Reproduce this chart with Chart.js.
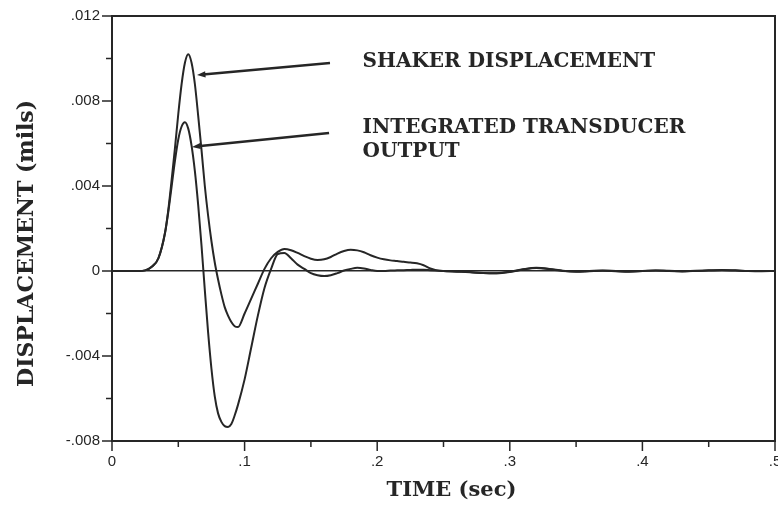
<!DOCTYPE html>
<html>
<head>
<meta charset="utf-8">
<script src="https://cdn.jsdelivr.net/npm/chart.js@4.4.1/dist/chart.umd.min.js"></script>
<style>
  html, body { margin: 0; padding: 0; background: #fff; }
  #wrap { width: 778px; height: 508px; }
</style>
</head>
<body>
<div id="wrap"><canvas id="chart" width="778" height="508"></canvas></div>
<script>
/* ================= DATA ================= */

const times = [
  0, 0.01, 0.02, 0.025, 0.03, 0.035, 0.04, 0.0425, 0.045, 0.0475,
  0.05, 0.0525, 0.055, 0.0575, 0.06, 0.0625, 0.065, 0.0675, 0.07, 0.0725,
  0.075, 0.0775, 0.08, 0.0825, 0.085, 0.0875, 0.09, 0.0925, 0.095, 0.1,
  0.105, 0.11, 0.115, 0.12, 0.125, 0.13, 0.135, 0.14, 0.145, 0.15,
  0.155, 0.16, 0.165, 0.17, 0.175, 0.18, 0.185, 0.19, 0.195, 0.2,
  0.205, 0.21, 0.215, 0.22, 0.225, 0.23, 0.235, 0.24, 0.245, 0.25,
  0.26, 0.27, 0.28, 0.29, 0.3, 0.31, 0.32, 0.33, 0.34, 0.35,
  0.36, 0.37, 0.38, 0.39, 0.4, 0.41, 0.42, 0.43, 0.44, 0.45,
  0.46, 0.47, 0.48, 0.49, 0.5
];

const shaker = [
  0, 0, 0, 0.00003, 0.0002, 0.0006, 0.0018, 0.0029, 0.0043, 0.0058,
  0.0074, 0.0088, 0.0098, 0.0102, 0.0098, 0.0088, 0.0073, 0.0057, 0.0040, 0.0026,
  0.0014, 0.0004, -0.0004, -0.0011, -0.0017, -0.0021, -0.0024, -0.0026, -0.00264, -0.0020,
  -0.0013, -0.0006, 0.0001, 0.0006, 0.0009, 0.00104, 0.00098, 0.00085, 0.0007, 0.00058,
  0.00052, 0.00055, 0.00066, 0.00082, 0.00094, 0.001, 0.00097, 0.00088, 0.00074, 0.00063,
  0.00055, 0.0005, 0.00047, 0.00043, 0.0004, 0.00036, 0.00027, 0.00012, 0.00003, 0,
  -0.00002, -0.00005, -0.00009, -0.0001, -0.00004, 0.00008, 0.00014, 0.00008, 0, -0.00002,
  0, 0.00002, 0, -0.00002, 0, 0.00002, 0, -0.00001, 0.00001, 0.00002,
  0.00004, 0.00002, 0, 0, 0
];

const transducer = [
  0, 0, 0, 0.00003, 0.0002, 0.0006, 0.0018, 0.0028, 0.0040, 0.0052,
  0.0062, 0.0068, 0.0070, 0.0067, 0.0059, 0.0047, 0.0031, 0.0012, -0.0009, -0.0029,
  -0.0046, -0.0059, -0.0067, -0.0071, -0.0073, -0.00734, -0.0072, -0.0068, -0.0063, -0.0051,
  -0.0036, -0.0021, -0.0008, 0.0001, 0.0008, 0.00085, 0.0006, 0.0003, 0.0001, -0.0001,
  -0.0002, -0.00024, -0.0002, -0.0001, 0.00002, 0.0001, 0.00015, 0.00012, 0.00005, 0,
  0, 0.00002, 0.00003, 0.00004, 0.00005, 0.00006, 0.00006, 0.00004, 0.00002, 0,
  -0.00003, -0.00006, -0.0001, -0.00011, -0.00005, 0.00007, 0.00015, 0.0001, 0.00001, -0.00003,
  -0.00001, 0.00001, -0.00001, -0.00003, 0, 0.00002, 0.00001, -0.00002, 0, 0.00003,
  0.00005, 0.00003, 0, -0.00001, 0
];

const xTicks = [0, 0.1, 0.2, 0.3, 0.4, 0.5];
const xTickLabels = ["0", ".1", ".2", ".3", ".4", ".5"];
const xMinor = [0.05, 0.15, 0.25, 0.35, 0.45];

const yTicks = [-0.008, -0.004, 0, 0.004, 0.008, 0.012];
const yTickLabels = ["-.008", "-.004", "0", ".004", ".008", ".012"];
const yMinor = [-0.006, -0.002, 0.002, 0.006, 0.010];

const xTitle = "TIME (sec)";
const yTitle = "DISPLACEMENT (mils)";

// annotation text: left edge at noteTimes, vertical middle at noteValues
const noteLabels = ["SHAKER DISPLACEMENT", "INTEGRATED TRANSDUCER", "OUTPUT"];
const noteTimes = [0.189, 0.189, 0.189];
const noteValues = [0.00984, 0.00673, 0.0056];

// arrows: tail -> tip, in data units
const arrowFromT = [0.1644, 0.1637];
const arrowFromV = [0.00979, 0.00649];
const arrowToT = [0.0641, 0.0603];
const arrowToV = [0.00922, 0.00584];

const ink = "#262626";

/* ================= PLUGINS ================= */

const frameAndNotes = {
  id: "frameAndNotes",
  afterDraw(chart) {
    const { ctx, chartArea: a, scales: { x, y } } = chart;
    ctx.save();
    ctx.strokeStyle = ink;
    ctx.fillStyle = ink;

    // top + right frame
    ctx.lineWidth = 2;
    ctx.beginPath();
    ctx.moveTo(a.left, a.top);
    ctx.lineTo(a.right, a.top);
    ctx.lineTo(a.right, a.bottom);
    ctx.stroke();

    // tick marks
    const mark = (x1, y1, x2, y2) => {
      ctx.beginPath();
      ctx.moveTo(x1, y1);
      ctx.lineTo(x2, y2);
      ctx.stroke();
    };
    ctx.lineWidth = 1.5;
    yTicks.forEach(v => { const p = y.getPixelForValue(v); mark(a.left - 10, p, a.left, p); });
    yMinor.forEach(v => { const p = y.getPixelForValue(v); mark(a.left - 6, p, a.left, p); });
    xTicks.forEach(v => { const p = x.getPixelForValue(v); mark(p, a.bottom, p, a.bottom + 10); });
    xMinor.forEach(v => { const p = x.getPixelForValue(v); mark(p, a.bottom, p, a.bottom + 6); });

    // arrows
    ctx.lineWidth = 2.5;
    arrowFromT.forEach((t, i) => {
      const x1 = x.getPixelForValue(t), y1 = y.getPixelForValue(arrowFromV[i]);
      const x2 = x.getPixelForValue(arrowToT[i]), y2 = y.getPixelForValue(arrowToV[i]);
      const ang = Math.atan2(y2 - y1, x2 - x1);
      mark(x1, y1, x2 - 6 * Math.cos(ang), y2 - 6 * Math.sin(ang));
      ctx.beginPath();
      ctx.moveTo(x2, y2);
      ctx.lineTo(x2 - 9 * Math.cos(ang - 0.35), y2 - 9 * Math.sin(ang - 0.35));
      ctx.lineTo(x2 - 9 * Math.cos(ang + 0.35), y2 - 9 * Math.sin(ang + 0.35));
      ctx.closePath();
      ctx.fill();
    });

    // annotation text
    ctx.font = "bold 20px 'DejaVu Serif'";
    ctx.textBaseline = "middle";
    ctx.textAlign = "left";
    noteLabels.forEach((txt, i) => {
      ctx.fillText(txt, x.getPixelForValue(noteTimes[i]), y.getPixelForValue(noteValues[i]));
    });

    // axis titles
    ctx.textAlign = "center";
    ctx.font = "bold 21px 'DejaVu Serif'";
    ctx.fillText(xTitle, x.getPixelForValue(0.256), 491);
    ctx.font = "bold 22px 'DejaVu Serif'";
    ctx.translate(27, y.getPixelForValue(0.0013));
    ctx.rotate(-Math.PI / 2);
    ctx.fillText(yTitle, 0, 0);
    ctx.restore();
  }
};

/* ================= CHART ================= */

const lineStyle = {
  borderColor: ink,
  borderWidth: 2,
  pointRadius: 0,
  fill: false,
  cubicInterpolationMode: "monotone"
};

const tickFont = { family: "'Liberation Sans'", size: 15 };

new Chart(document.getElementById("chart"), {
  type: "line",
  data: {
    datasets: [
      { label: "Shaker displacement", data: times.map((t, i) => ({ x: t, y: shaker[i] })), ...lineStyle },
      { label: "Integrated transducer output", data: times.map((t, i) => ({ x: t, y: transducer[i] })), ...lineStyle }
    ]
  },
  options: {
    responsive: false,
    animation: false,
    devicePixelRatio: 1,
    layout: { padding: { top: 16, right: 3, left: 0, bottom: 0 } },
    plugins: {
      legend: { display: false },
      tooltip: { enabled: false }
    },
    scales: {
      x: {
        type: "linear",
        min: 0,
        max: 0.5,
        afterFit: s => { s.height = 67; s.paddingLeft = 0; s.paddingRight = 0; },
        afterBuildTicks: s => { s.ticks = xTicks.map(v => ({ value: v })); },
        ticks: {
          autoSkip: false,
          maxRotation: 0,
          padding: 12,
          color: ink,
          font: tickFont,
          callback: (v, i) => xTickLabels[i]
        },
        grid: { display: false, drawTicks: false },
        border: { display: true, color: ink, width: 2 }
      },
      y: {
        min: -0.008,
        max: 0.012,
        afterFit: s => { s.width = 112; s.paddingTop = 0; s.paddingBottom = 0; },
        afterBuildTicks: s => { s.ticks = yTicks.map(v => ({ value: v })); },
        ticks: {
          autoSkip: false,
          padding: 12,
          color: ink,
          font: tickFont,
          callback: (v, i) => yTickLabels[i]
        },
        grid: {
          drawTicks: false,
          lineWidth: 1.5,
          color: c => (c.tick && Math.abs(c.tick.value) < 1e-9 ? ink : "rgba(0,0,0,0)")
        },
        border: { display: true, color: ink, width: 2 }
      }
    }
  },
  plugins: [frameAndNotes]
});
</script>
</body>
</html>
